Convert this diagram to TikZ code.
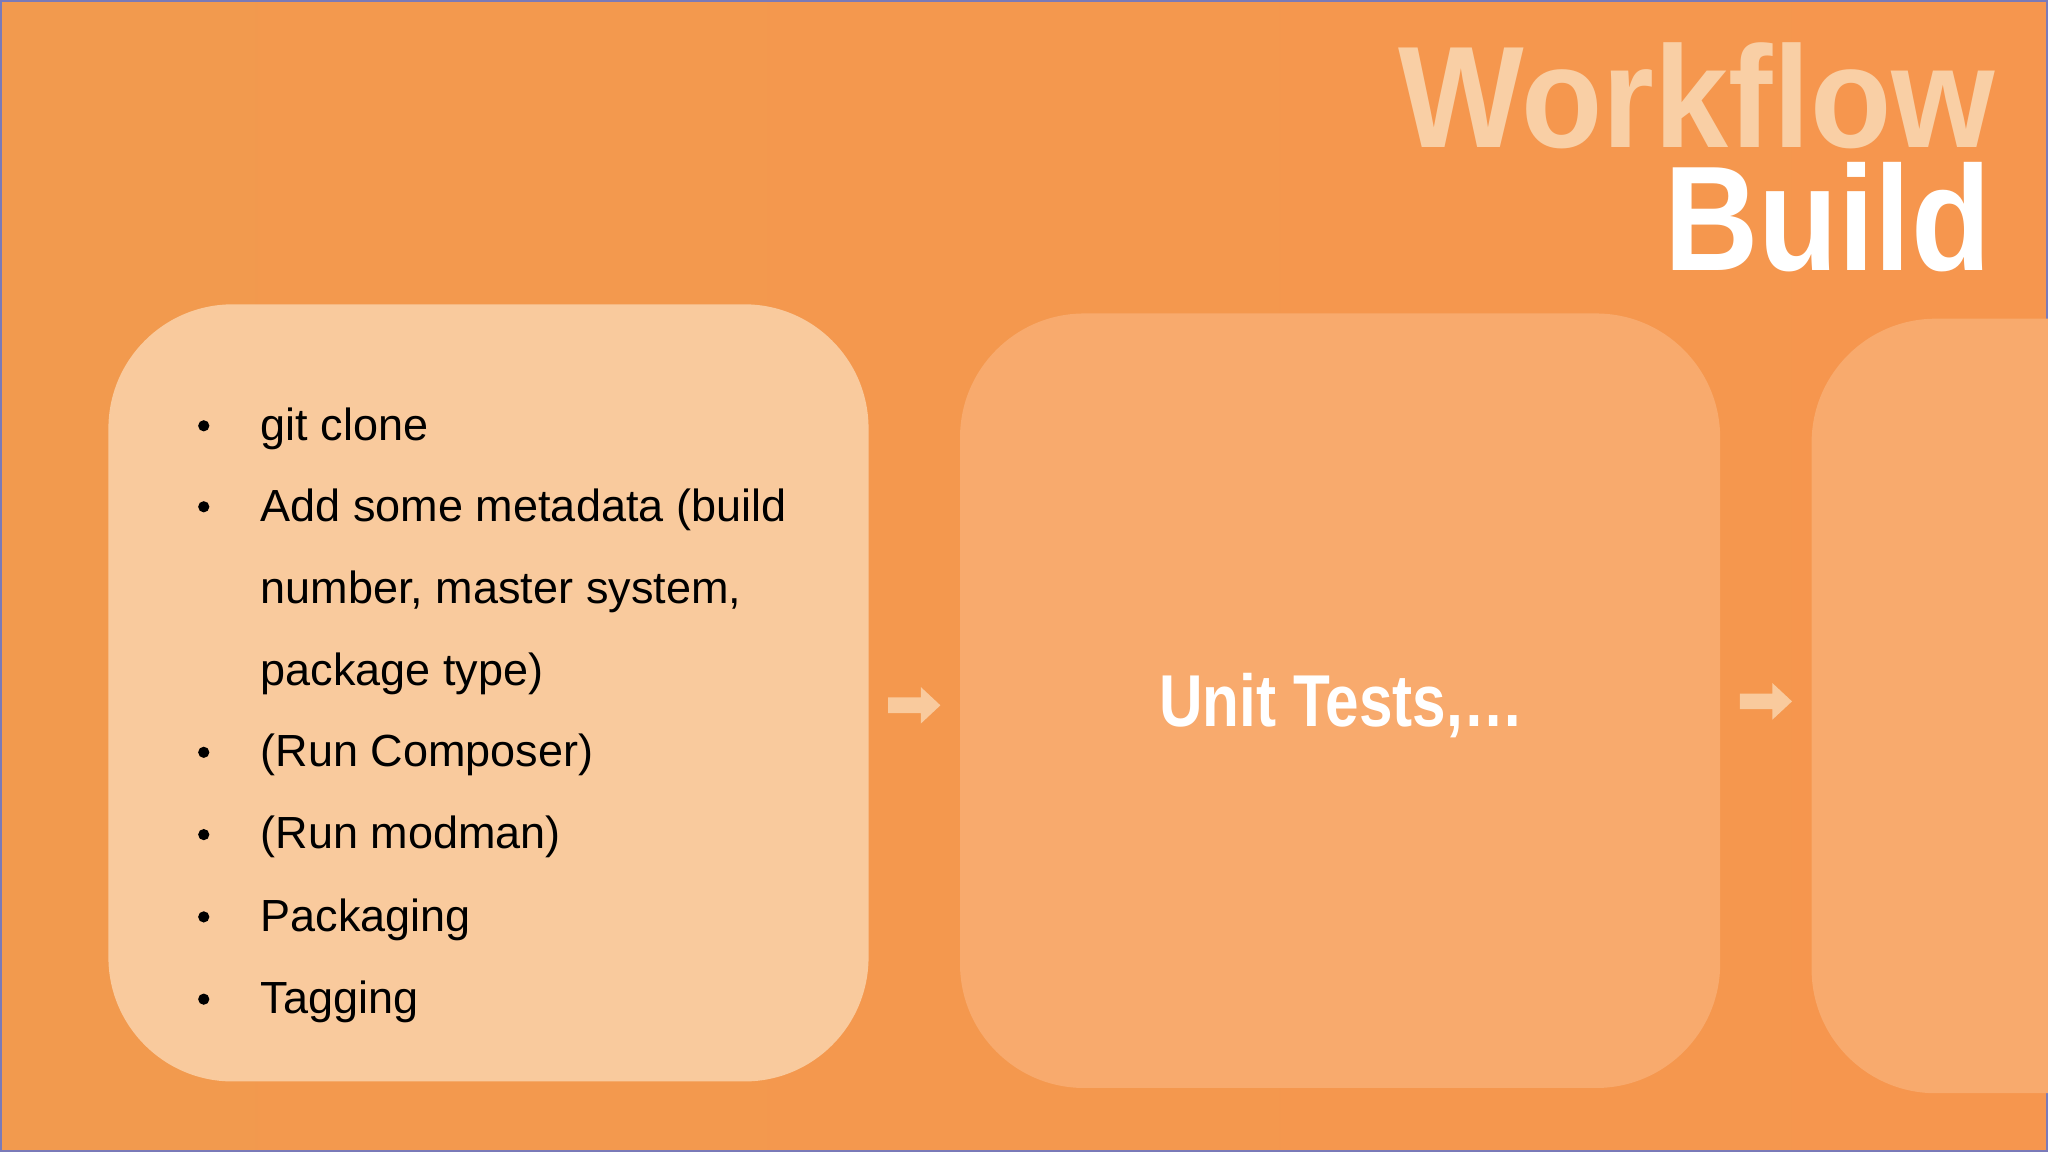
\documentclass[tikz,border=0pt]{standalone}
\usepackage{fontspec}
\usepackage{graphicx}
\setmainfont{Liberation Sans}
\definecolor{bgA}{HTML}{F29A4E}
\definecolor{bgB}{HTML}{F6964E}
\definecolor{boxA}{HTML}{F9CA9D}
\definecolor{boxB}{HTML}{F8AA6D}
\definecolor{titleA}{HTML}{F9CFA5}
\begin{document}
\begin{tikzpicture}[x=0.01cm,y=-0.01cm,
  card/.style={rounded corners=0.95cm},
  arr/.style={fill=boxA,draw=none},
  item/.style={anchor=base west,font=\fontsize{9.8pt}{11pt}\selectfont,text=black}]
\useasboundingbox (0,0) rectangle (1568,882);
\shade[left color=bgA,right color=bgB] (0,0) rectangle (1568,882);
\draw[color=gray!70!blue!80,line width=0.5pt] (0.5,0.5) rectangle (1567.5,881.5);
\fill[boxA,card] (83,233) rectangle (665,828);
\fill[boxB,card] (735,240) rectangle (1317,833);
\begin{scope}
\clip (0,0) rectangle (1568,882);
\fill[boxB,card] (1387,244) rectangle (1700,837);
\end{scope}
\node[font=\bfseries\fontsize{31.5pt}{32pt}\selectfont,text=titleA,anchor=base east,inner sep=0,text height=0.8cm,text depth=0pt] (wf) at (1528,113) {\scalebox{0.92}[1]{Workflow}};
\node[font=\bfseries\fontsize{32.5pt}{33pt}\selectfont,text=white,anchor=base east,inner sep=0,text height=0.8cm,text depth=0pt] (bd) at (1525,207) {\scalebox{0.875}[1]{Build}};
\foreach \y/\b/\t in {337/1/git clone,399/1/Add some metadata (build,462/0/{number, master system,},525/0/package type),587/1/(Run Composer),650/1/(Run modman),713/1/Packaging,776/1/Tagging}{
  \node[item,inner sep=0] at (199,\y) {\t};
  \ifnum\b=1 \fill[black] (156,\y-11) circle (4.3);\fi
}
\node[font=\bfseries\fontsize{16pt}{17pt}\selectfont,text=white,inner sep=0] (ut) at (1027,540) {\scalebox{0.82}[1]{Unit Tests,…}};
\fill[arr] (680,534) -- (705,534) -- (705,526) -- (720,540) -- (705,554) -- (705,546) -- (680,546) -- cycle;
\fill[arr] (1332,531) -- (1357,531) -- (1357,523) -- (1372,537) -- (1357,551) -- (1357,543) -- (1332,543) -- cycle;
\end{tikzpicture}
\end{document}
